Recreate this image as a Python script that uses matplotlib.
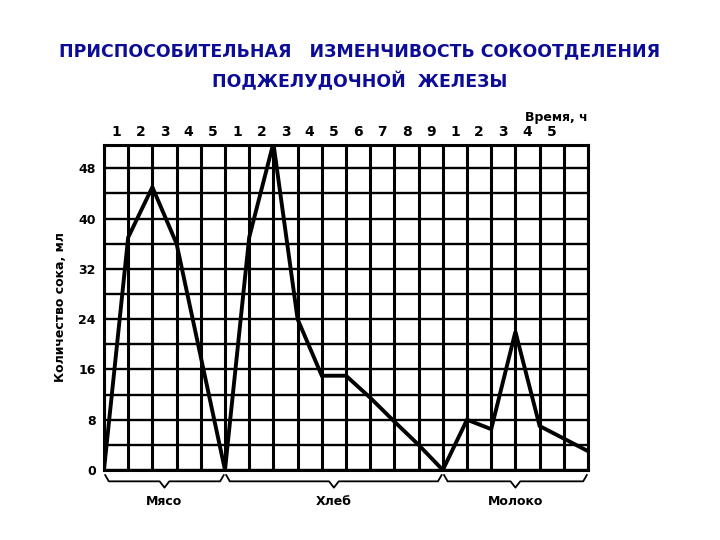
import matplotlib
matplotlib.use("Agg")
import matplotlib.pyplot as plt
import numpy as np

x_hours = [0, 1, 2, 3, 4, 5, 6, 7, 8, 9, 10, 11, 12, 13, 14, 15, 16, 17, 18, 20]
juice = [0, 37, 45, 36, 18, 0, 37, 52, 24, 15, 15, 11.5, 7.7, 4, 0, 8, 6.5, 22, 7, 3]
top_labels = ["1", "2", "3", "4", "5", "1", "2", "3", "4", "5", "6", "7", "8", "9", "1", "2", "3", "4", "5"]
y_ticks = [0, 8, 16, 24, 32, 40, 48]
groups = ["Мясо", "Хлеб", "Молоко"]
group_bounds = [(0, 5), (5, 14), (14, 20)]

fig = plt.figure(figsize=(7.2, 5.4), dpi=100)
ax = fig.add_axes([0.1444, 0.1296, 0.6723, 0.6019])
ax.set_xlim(0, 20)
ax.set_ylim(0, 51.7)
for xv in range(0, 21):
    ax.axvline(xv, color="black", lw=2.2)
for yv in range(0, 52, 4):
    ax.axhline(yv, color="black", lw=1.7)
ax.plot(x_hours, juice, color="black", lw=2.8, solid_joinstyle="miter")
for s in ax.spines.values():
    s.set_linewidth(2.2)
ax.set_yticks(y_ticks)
ax.set_yticklabels([str(v) for v in y_ticks], fontsize=9, fontweight="bold")
ax.tick_params(axis="y", length=0, pad=6)
ax.set_xticks([])
for i, lab in enumerate(top_labels):
    ax.text(i + 0.5, 52.6, lab, ha="center", va="bottom", fontsize=10, fontweight="bold")
ax.text(20, 55.0, "Время, ч", ha="right", va="bottom", fontsize=9, fontweight="bold")
ax.set_ylabel("Количество сока, мл", fontsize=9, fontweight="bold", labelpad=8)

def brace(a, b, y0=-0.8, h=2.0):
    m = (a + b) / 2
    xs = [a + 0.05, a + 0.2, m - 0.2, m, m + 0.2, b - 0.2, b - 0.05]
    ys = [y0, y0 - h * 0.5, y0 - h * 0.5, y0 - h, y0 - h * 0.5, y0 - h * 0.5, y0]
    ax.plot(xs, ys, color="black", lw=1.3, clip_on=False)

for name, (a, b) in zip(groups, group_bounds):
    brace(a, b)
    ax.text((a + b) / 2, -4.0, name, ha="center", va="top", fontsize=9, fontweight="bold")

fig.text(0.5, 0.895, "ПРИСПОСОБИТЕЛЬНАЯ   ИЗМЕНЧИВОСТЬ СОКООТДЕЛЕНИЯ", ha="center",
         fontsize=12.5, fontweight="heavy", color="#0c0c96")
fig.text(0.5, 0.838, "ПОДЖЕЛУДОЧНОЙ  ЖЕЛЕЗЫ", ha="center",
         fontsize=12.5, fontweight="heavy", color="#0c0c96")
fig.savefig("out.png", dpi=100)
